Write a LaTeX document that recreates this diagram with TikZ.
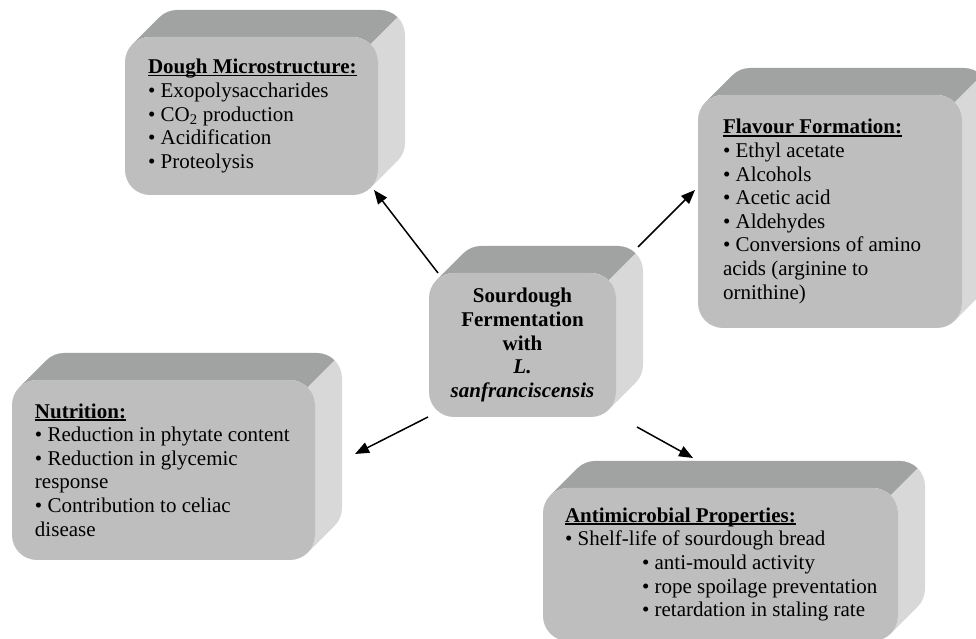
\documentclass[tikz,border=0pt]{standalone}
\usepackage{fontspec}
\setmainfont{Liberation Serif}
\usetikzlibrary{arrows.meta}
\definecolor{frontcol}{HTML}{BEBEBE}
\definecolor{topcol}{HTML}{A1A2A2}
\definecolor{sidecol}{HTML}{D8D8D8}
\newcommand\nohyph{\hyphenpenalty=10000\relax}
\tikzset{
  topface/.style={fill=topcol},
  sideface/.style={fill=sidecol},
  frontbox/.style={fill=frontcol, rounded corners=25pt, inner xsep=0pt, inner ysep=4pt,
    font=\fontsize{21}{23.6}\selectfont\nohyph, text=black},
  centrebox/.style={frontbox, font=\fontsize{21}{23.6}\selectfont\bfseries},
  arr/.style={line width=1.5pt, -{Triangle[length=14pt,width=11pt]}}
}
\newcommand\ttl[1]{\leavevmode\setbox0\hbox{\textbf{#1}}\rlap{\rule[-2.6pt]{\wd0}{1.5pt}}\box0}
\newcommand\lsk[1]{\raggedright\leftskip=#1pt\relax}
\newcommand\rr{25}
\newcommand\dd{27}
% #1 name, #2 L, #3 B, #4 R, #5 T, #6 node style, #7 content
\newcommand\boxthreed[7]{%
  \pgfmathsetmacro\bL{#2}\pgfmathsetmacro\bB{#3}%
  \pgfmathsetmacro\bR{#4}\pgfmathsetmacro\bT{#5}%
  \pgfmathsetmacro\bc{\rr*(1-cos(45))}%
  \pgfmathsetmacro\bW{\bR-\bL}\pgfmathsetmacro\bH{\bT-\bB}%
  \fill[topface] (\bL+\bc,\bT-\bc) arc[start angle=135,end angle=90,radius=\rr pt]
     -- (\bR-\rr,\bT) arc[start angle=90,end angle=45,radius=\rr pt]
     -- ++(\dd,\dd) arc[start angle=45,end angle=90,radius=\rr pt]
     -- (\bL+\rr+\dd,\bT+\dd) arc[start angle=90,end angle=135,radius=\rr pt] -- cycle;
  \fill[sideface] (\bR-\bc,\bT-\bc) arc[start angle=45,end angle=0,radius=\rr pt]
     -- (\bR,\bB+\rr) arc[start angle=0,end angle=-45,radius=\rr pt]
     -- ++(\dd,\dd) arc[start angle=-45,end angle=0,radius=\rr pt]
     -- (\bR+\dd,\bT-\rr+\dd) arc[start angle=0,end angle=45,radius=\rr pt] -- cycle;
  \node[#6, minimum width=\bW pt, minimum height=\bH pt]
     (#1) at ({(\bL+\bR)/2},{(\bB+\bT)/2}) {\parbox{\bW pt}{#7\par}};
}
\begin{document}
\begin{tikzpicture}[x=1pt,y=1pt]
\path[use as bounding box] (0,0) rectangle (976,639);
\clip (0,0) rectangle (976,639);

\boxthreed{dough}{125}{444}{378}{602}{frontbox}{\lsk{23}%
\ttl{Dough Microstructure:}\\
• Exopolysaccharides\\
• CO\textsubscript{2} production\\
• Acidification\\
• Proteolysis}

\boxthreed{flavour}{698}{311}{962}{544}{frontbox}{\lsk{25}%
\ttl{Flavour Formation:}\\
• Ethyl acetate\\
• Alcohols\\
• Acetic acid\\
• Aldehydes\\
• Conversions of amino\\
acids (arginine to\\
ornithine)}

\boxthreed{centre}{429}{222}{616}{366}{centrebox}{\centering
Sourdough\\
Fermentation\\
with\\
\textit{L.}\\
\textit{sanfranciscensis}}

\boxthreed{nutrition}{12}{79}{315}{259}{frontbox}{\lsk{23}%
\ttl{Nutrition:}\\
• Reduction in phytate content\\
• Reduction in glycemic\\
response\\
• Contribution to celiac\\
disease}

\boxthreed{antimicro}{543}{-2}{898}{151}{frontbox}{\lsk{22}%
\ttl{Antimicrobial Properties:}\\
• Shelf-life of sourdough bread\\
\hspace*{77pt}• anti-mould activity\\
\hspace*{77pt}• rope spoilage preventation\\
\hspace*{77pt}• retardation in staling rate}

\coordinate (a1s) at (438,366);
\coordinate (a1e) at (374,449);
\coordinate (a2s) at (638,392);
\coordinate (a2e) at (695,449);
\coordinate (a3s) at (428,222);
\coordinate (a3e) at (355,185);
\coordinate (a4s) at (637,212);
\coordinate (a4e) at (693,181);
\draw[arr] (a1s) -- (a1e);
\draw[arr] (a2s) -- (a2e);
\draw[arr] (a3s) -- (a3e);
\draw[arr] (a4s) -- (a4e);
\end{tikzpicture}
\end{document}
